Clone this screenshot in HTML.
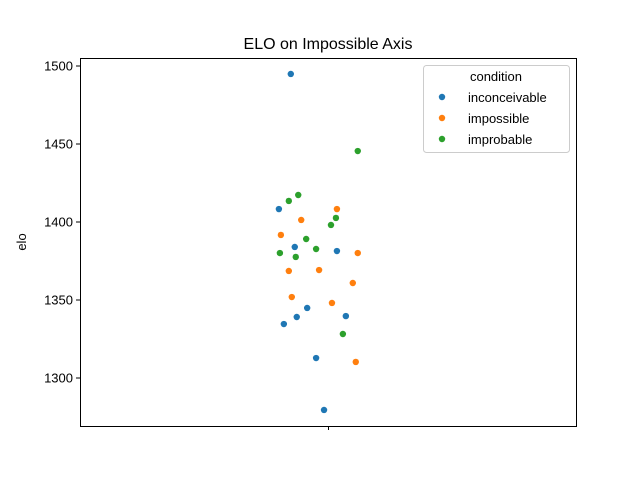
<!DOCTYPE html>
<html><head><meta charset="utf-8"><style>
body{margin:0;background:#fff}
svg text{font-family:"Liberation Sans","DejaVu Sans",sans-serif;fill:#000}
</style></head><body>
<svg id="chart" width="640" height="480">
<text x="328" y="49" font-size="16" text-anchor="middle">ELO on Impossible Axis</text>
<text transform="translate(26,242) rotate(-90)" font-size="13" text-anchor="middle">elo</text>
<g id="ticks"></g>
<g id="points"></g>
<rect x="80.5" y="58.5" width="496" height="368" fill="none" stroke="#000" stroke-width="1"/>
<g>
<rect x="423.5" y="65.5" width="146" height="87" rx="3" fill="#fff" fill-opacity="0.8" stroke="#ccc"/>
<text x="496" y="81" font-size="13" text-anchor="middle">condition</text>
<g id="legend"></g>
</g>
</svg>
<script>
const categories = ["inconceivable","impossible","improbable"];
const colors = ["#1f77b4","#ff7f0e","#2ca02c"];
const yTicks = [1300,1350,1400,1450,1500];
const eloInconceivable = [1494.9,1408.3,1384.0,1381.4,1344.9,1339.1,1339.7,1334.6,1312.8,1279.5];
const jitterInconceivable = [-0.075,-0.099,-0.067,0.018,-0.042,-0.063,0.036,-0.089,-0.024,-0.008];
const eloImpossible = [1408.3,1401.3,1391.7,1380.1,1368.6,1369.2,1360.9,1351.9,1348.1,1310.3];
const jitterImpossible = [0.018,-0.054,-0.095,0.06,-0.079,-0.018,0.05,-0.073,0.008,0.056];
const eloImprobable = [1445.5,1417.3,1413.5,1402.6,1398.1,1389.1,1382.7,1380.1,1377.6,1328.2];
const jitterImprobable = [0.06,-0.06,-0.079,0.016,0.006,-0.044,-0.024,-0.097,-0.065,0.03];
const series = [[eloInconceivable,jitterInconceivable],[eloImpossible,jitterImpossible],[eloImprobable,jitterImprobable]];
const NS="http://www.w3.org/2000/svg";
const y = v => 378 - (v-1300)*1.56;
const x = j => 328 + j*496;
const tg=document.getElementById('ticks');
yTicks.forEach(t=>{
 const l=document.createElementNS(NS,'line');
 l.setAttribute('x1',76);l.setAttribute('x2',80);l.setAttribute('y1',y(t));l.setAttribute('y2',y(t));l.setAttribute('stroke','#000');
 
 
 tg.appendChild(l);
 const tx=document.createElementNS(NS,'text');
 tx.setAttribute('x',73);tx.setAttribute('y',y(t)+4.5);tx.setAttribute('font-size','13');tx.setAttribute('text-anchor','end');
 tx.textContent=t;
 
 
 tg.appendChild(tx);
});
const xt=document.createElementNS(NS,'line');
xt.setAttribute('x1',328.5);xt.setAttribute('x2',328.5);xt.setAttribute('y1',426);xt.setAttribute('y2',430);xt.setAttribute('stroke','#000');


tg.appendChild(xt);
const pg=document.getElementById('points');
series.forEach((s,i)=>{
 s[0].forEach((v,k)=>{
  const c=document.createElementNS(NS,'circle');
  c.setAttribute('cx',x(s[1][k]));c.setAttribute('cy',y(v));c.setAttribute('r',3.2);c.setAttribute('fill',colors[i]);
  
  
  pg.appendChild(c);
 });
});
const lg=document.getElementById('legend');
categories.forEach((c,i)=>{
 const m=document.createElementNS(NS,'circle');
 m.setAttribute('cx',442);m.setAttribute('cy',97+i*21);m.setAttribute('r',3.2);m.setAttribute('fill',colors[i]);
 
 
 lg.appendChild(m);
 const t=document.createElementNS(NS,'text');
 t.setAttribute('x',468);t.setAttribute('y',102+i*21);t.setAttribute('font-size','13');
 t.textContent=c;
 
 
 lg.appendChild(t);
});
</script>
</body></html>
